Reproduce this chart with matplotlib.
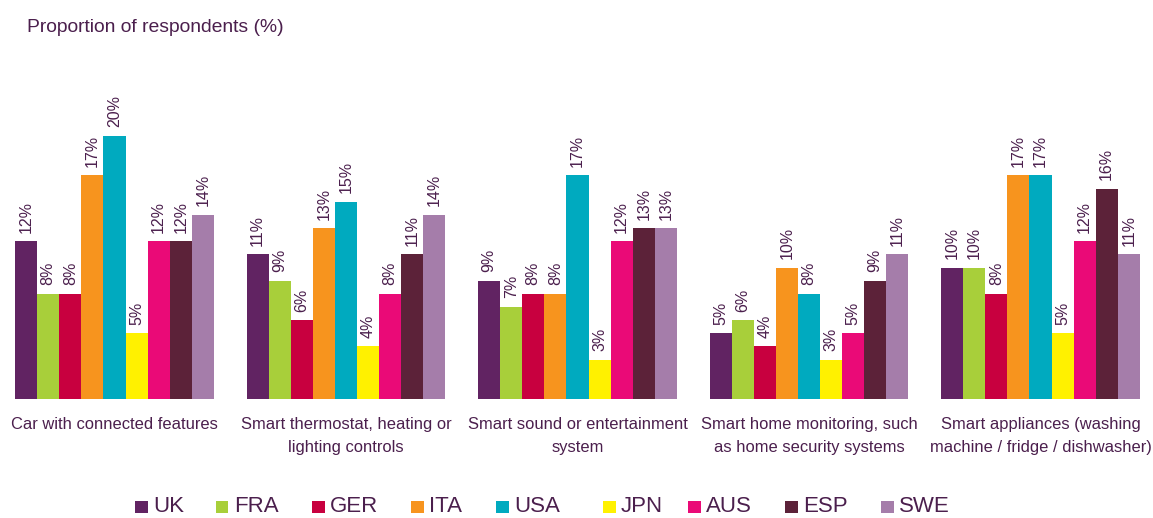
import matplotlib
matplotlib.use("Agg")
import matplotlib.pyplot as plt
from matplotlib.patches import Rectangle
import numpy as np

plt.rcParams['font.family'] = ['Liberation Sans', 'DejaVu Sans']

categories = ["Car with connected features",
              "Smart thermostat, heating or\nlighting controls",
              "Smart sound or entertainment\nsystem",
              "Smart home monitoring, such\nas home security systems",
              "Smart appliances (washing\nmachine / fridge / dishwasher)"]
countries = ["UK", "FRA", "GER", "ITA", "USA", "JPN", "AUS", "ESP", "SWE"]
values = {
    "UK":  [12, 11, 9, 5, 10],
    "FRA": [8, 9, 7, 6, 10],
    "GER": [8, 6, 8, 4, 8],
    "ITA": [17, 13, 8, 10, 17],
    "USA": [20, 15, 17, 8, 17],
    "JPN": [5, 4, 3, 3, 5],
    "AUS": [12, 8, 12, 5, 12],
    "ESP": [12, 11, 13, 9, 16],
    "SWE": [14, 14, 13, 11, 11],
}
colors = ["#612362", "#a8cf3a", "#c8003f", "#f7941e", "#00aabf",
          "#fff100", "#ea0a77", "#5c2239", "#a57daa"]
title = "Proportion of respondents (%)"
txt = "#4b1f4d"

W, H = 1153, 518
fig = plt.figure(figsize=(W/100, H/100), dpi=100)
ax = fig.add_axes([15/W, 119/H, 1125/W, 263/H])
ax.set_xlim(0, 1125)
ax.set_ylim(0, 20)
ax.axis('off')

bw = 22.1
gstep = 231.5
for i, c in enumerate(countries):
    xs = np.arange(len(categories)) * gstep + i * bw
    ax.bar(xs, values[c], width=bw, align='edge', color=colors[i], linewidth=0)
    for x, v in zip(xs, values[c]):
        ax.text(x + bw/2, v + 0.65, f"{v}%", rotation=90, ha='center', va='bottom',
                fontsize=11.5, color=txt, clip_on=False)

for g, cat in enumerate(categories):
    cx = g * gstep + 9 * bw / 2
    ax.text(cx, -1.4, cat, ha='center', va='top', fontsize=11.9, color=txt,
            linespacing=1.6, clip_on=False)

fig.text(27/W, 1 - 28/H, title, ha='left', va='center', fontsize=13.9, color=txt)

# legend (manual placement)
leg_x = [135, 216, 312, 411, 496, 603, 688, 785, 881]
for i, c in enumerate(countries):
    x0 = leg_x[i]
    fig.patches.append(Rectangle((x0/W, 1 - 513/H), 12.5/W, 12.5/H,
                                 transform=fig.transFigure, facecolor=colors[i],
                                 edgecolor='none'))
    fig.text((x0 + 18)/W, 1 - 517/H, c, ha='left', va='bottom',
             fontsize=16, color=txt)

fig.savefig("out.png", dpi=100)
